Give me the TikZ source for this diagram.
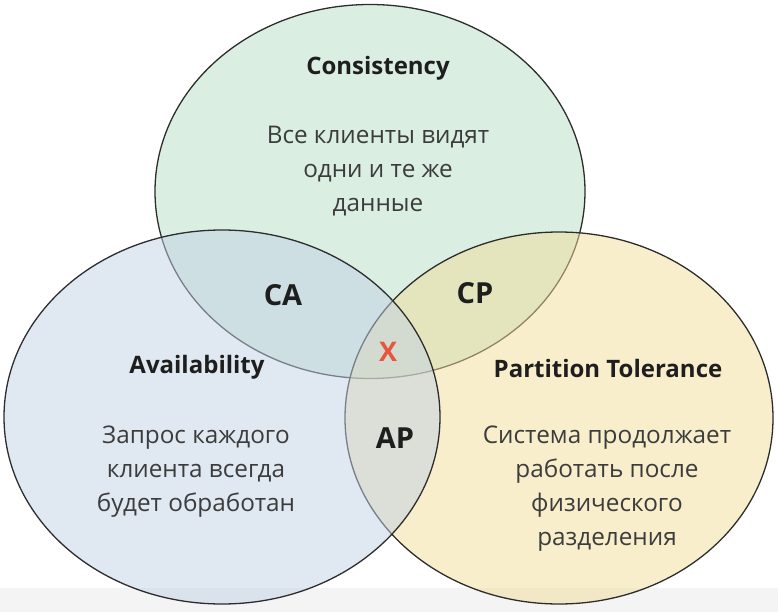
\documentclass[tikz,border=0pt]{standalone}
\usepackage{fontspec}
\setmainfont{Open Sans}
\usetikzlibrary{shapes.geometric}
\definecolor{cfill}{RGB}{181,221,197}
\definecolor{pfill}{RGB}{241,221,153}
\definecolor{afill}{RGB}{193,209,229}
\definecolor{edge}{RGB}{45,45,45}
\definecolor{titlec}{RGB}{30,30,30}
\definecolor{bodyc}{RGB}{60,60,60}
\definecolor{xred}{RGB}{230,85,60}
\definecolor{band}{RGB}{244,244,244}
\tikzset{
  setbox/.style={ellipse, draw=edge, line width=1.3pt, fill opacity=0.5, inner sep=0pt},
  ttl/.style={font=\fontsize{24}{30}\selectfont\bfseries, text=titlec, inner sep=0pt},
  body/.style={font=\fontsize{24.3}{34}\selectfont, text=bodyc, align=center, inner sep=0pt},
  pair/.style={font=\fontsize{29}{32}\selectfont\bfseries, text=titlec, inner sep=0pt},
}
\begin{document}
\begin{tikzpicture}[x=1pt,y=-1pt]
\useasboundingbox (0,0) rectangle (778,612);
\fill[band] (0,588) rectangle (778,612);
% sets: top, right, left
\node[setbox, fill=cfill, minimum width=430pt, minimum height=374pt] (C) at (370,191.5) {};
\node[setbox, fill=pfill, minimum width=428pt, minimum height=372pt] (P) at (559,418) {};
\node[setbox, fill=afill, minimum width=436pt, minimum height=374pt] (A) at (222,417) {};
% titles
\node[ttl] (ct) at (378,68) {Consistency};
\node[ttl] (at) at (197,367) {Availability};
\node[ttl] (pt) at (608,368) {Partition Tolerance};
% descriptions
\node[body] (cb) at (378,171) {Все клиенты видят\\одни и те же\\данные};
\node[body] (ab) at (196,472) {Запрос каждого\\клиента всегда\\будет обработан};
\node[body] (pb) at (607,489) {Система продолжает\\работать после\\физического\\разделения};
% intersections
\node[pair] (ca) at (283,295) {CA};
\node[pair] (cp) at (475,293) {CP};
\node[pair] (ap) at (395,438) {AP};
\node[pair, text=xred, font=\fontsize{27}{30}\selectfont\bfseries] (x) at (388,352) {X};
\end{tikzpicture}
\end{document}
